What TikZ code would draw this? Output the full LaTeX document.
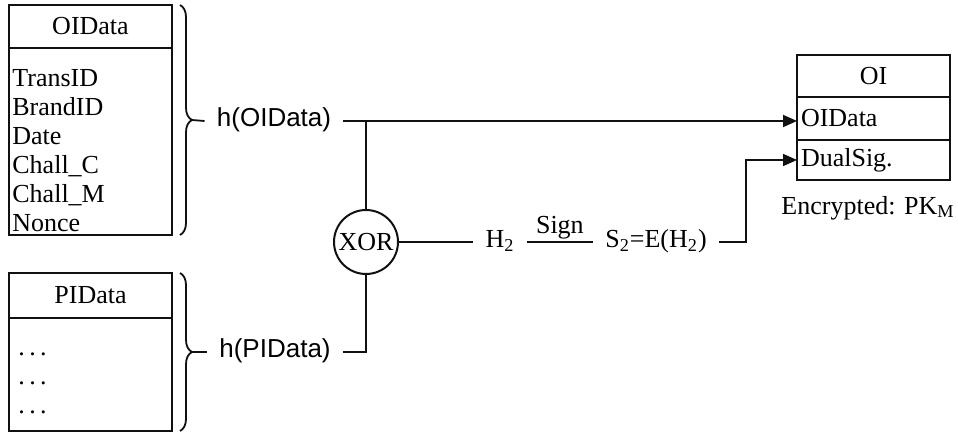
\documentclass[tikz,border=0pt]{standalone}
\usepackage{fontspec}
\setmainfont{Liberation Serif}
\setsansfont{Liberation Sans}
\usepackage{tikz}
\usetikzlibrary{arrows.meta,calc,positioning,decorations.pathreplacing}
\definecolor{inkCol}{HTML}{111111}
\newcommand{\dsize}{\fontsize{13}{14.5}\selectfont}
\tikzset{
  hdr/.style n args={2}{draw=inkCol, line width=1pt, outer sep=0pt, inner sep=0pt,
        minimum width=#1, minimum height=#2, align=center},
  row/.style n args={2}{hdr={#1}{#2}, inner xsep=2pt, text width=72.5pt, align=left},
  lst/.style={inner sep=0pt, align=left, text width=70pt},
  lbl/.style={inner xsep=6pt, inner ysep=2pt, text height=9pt, text depth=3pt},
  brc/.style={draw=inkCol, line width=0.9pt, decorate, decoration={brace, amplitude=6pt}},
  cnx/.style={draw=inkCol, line width=0.9pt},
  arr/.style={cnx, -{Triangle[length=7pt, width=6pt]}},
}

\begin{document}
\begin{tikzpicture}[x=0.5pt, y=-0.5pt, font=\dsize]
  \useasboundingbox (0,0) rectangle (958,432);
  % data blocks
  \node[hdr={81.5pt}{21.5pt}] (oidh) at (90.5,26.5) {OIData};
  \node[hdr={81.5pt}{93.5pt}, anchor=north] (oidb) at (oidh.south) {};
  \node[lst, anchor=north west] (oidl) at ($(oidb.north west)+(3,18)$)
       {\strut TransID\\BrandID\\Date\\Chall\_C\\Chall\_M\\Nonce};
  \node[hdr={81.5pt}{22.5pt}] (pidh) at (90.5,295.5) {PIData};
  \node[hdr={81.5pt}{56.5pt}, anchor=north] (pidb) at (pidh.south) {};
  \node[lst, anchor=north west] (pidl) at ($(pidb.north west)+(9,17)$)
       {\strut.\hspace{2.2pt}.\hspace{2.2pt}.\\.\hspace{2.2pt}.\hspace{2.2pt}.\\.\hspace{2.2pt}.\hspace{2.2pt}.};
  \coordinate (b1t) at (180,5);
  \coordinate (b1b) at (180,235);
  \coordinate (b2t) at (180,273);
  \coordinate (b2b) at (180,431);
  \draw[brc] (b1t) -- (b1b);
  \draw[brc] (b2t) -- (b2b);
  \coordinate (b1m) at ($(b1t)!0.5!(b1b)+(12,0)$);
  \coordinate (b2m) at ($(b2t)!0.5!(b2b)+(12,0)$);
  % hashes and signature
  \node[lbl, font=\dsize\sffamily] (hoi) at (274,121) {h(OIData)};
  \node[lbl, font=\dsize\sffamily] (hpi) at (275,352) {h(PIData)};
  \node[circle, draw=inkCol, line width=1pt, minimum size=32pt, inner sep=0pt] (xr) at (366,242) {XOR};
  \node[lbl] (h2) at (500,242) {H\textsubscript{2}};
  \node[lbl] (s2) at (656,242) {S\textsubscript{2}=E(H\textsubscript{2})};
  % order information envelope
  \node[hdr={76.5pt}{21pt}] (oih) at (873.5,76) {OI};
  \node[row={76.5pt}{21.5pt}, anchor=north] (oi2) at (oih.south) {OIData};
  \node[row={76.5pt}{20pt}, anchor=north] (oi3) at (oi2.south) {DualSig.};
  \node (enc) at (868,208) {Encrypted: PK\textsubscript{M}};
  \draw[cnx] (b1m) -- (hoi.west);
  \draw[arr] (hoi.east) -- (hoi.east -| oi2.west);
  \draw[cnx] (xr.north) -- (xr.north |- hoi.east);
  \draw[cnx] (b2m) -- (hpi.west);
  \draw[cnx] (hpi.east) -| (xr.south);
  \draw[cnx] (xr.east) -- (h2.west);
  \draw[cnx] (h2.east) -- (s2.west) node[midway, above, inner sep=1pt]{Sign};
  \draw[arr] (s2.east) -- ++(27,0) |- (oi3.west);
\end{tikzpicture}
\end{document}
